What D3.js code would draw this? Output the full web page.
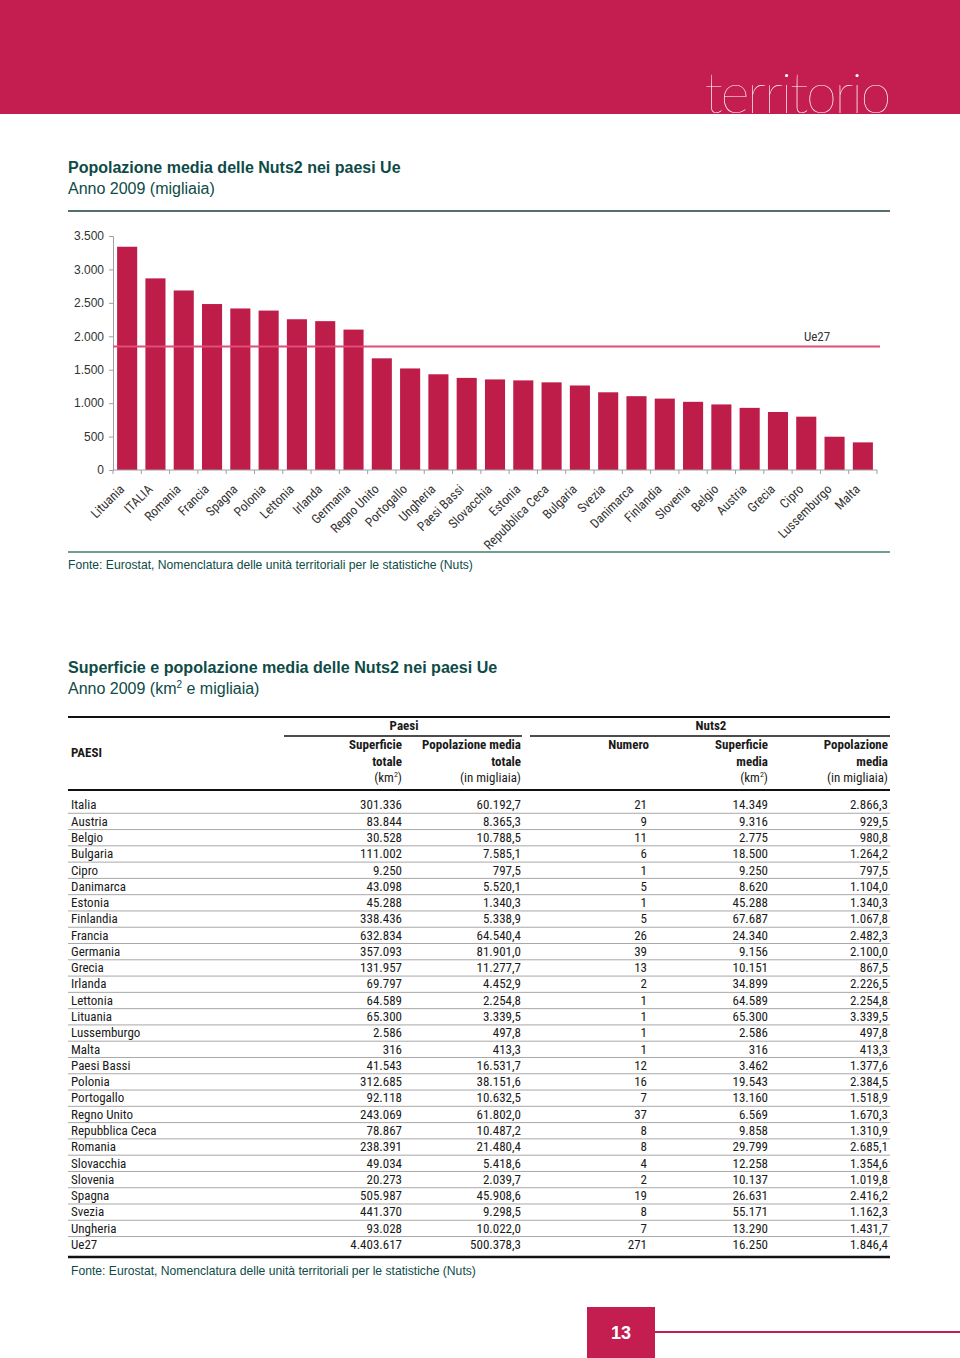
<!DOCTYPE html>
<html>
<head>
<meta charset="utf-8">
<script src="https://cdn.jsdelivr.net/npm/d3@7"></script>
<style>
  html, body { margin: 0; padding: 0; background: #fff; }
  svg { display: block; }
</style>
</head>
<body>
<svg id="page" width="960" height="1358"></svg>
<script>
// ---------- DATA ----------
const chartCountries = ["Lituania","ITALIA","Romania","Francia","Spagna","Polonia","Lettonia","Irlanda","Germania","Regno Unito","Portogallo","Ungheria","Paesi Bassi","Slovacchia","Estonia","Repubblica Ceca","Bulgaria","Svezia","Danimarca","Finlandia","Slovenia","Belgio","Austria","Grecia","Cipro","Lussemburgo","Malta"];
const chartValues = [3339.5,2866.3,2685.1,2482.3,2416.2,2384.5,2254.8,2226.5,2100.0,1670.3,1518.9,1431.7,1377.6,1354.6,1340.3,1310.9,1264.2,1162.3,1104.0,1067.8,1019.8,980.8,929.5,867.5,797.5,497.8,413.3];
const ue27Value = 1846.4;
const yTicks = [0,500,1000,1500,2000,2500,3000,3500];

const tableCountries = ["Italia","Austria","Belgio","Bulgaria","Cipro","Danimarca","Estonia","Finlandia","Francia","Germania","Grecia","Irlanda","Lettonia","Lituania","Lussemburgo","Malta","Paesi Bassi","Polonia","Portogallo","Regno Unito","Repubblica Ceca","Romania","Slovacchia","Slovenia","Spagna","Svezia","Ungheria","Ue27"];
const superficieTotale = [301336,83844,30528,111002,9250,43098,45288,338436,632834,357093,131957,69797,64589,65300,2586,316,41543,312685,92118,243069,78867,238391,49034,20273,505987,441370,93028,4403617];
const popolazioneTotale = [60192.7,8365.3,10788.5,7585.1,797.5,5520.1,1340.3,5338.9,64540.4,81901.0,11277.7,4452.9,2254.8,3339.5,497.8,413.3,16531.7,38151.6,10632.5,61802.0,10487.2,21480.4,5418.6,2039.7,45908.6,9298.5,10022.0,500378.3];
const numeroNuts2 = [21,9,11,6,1,5,1,5,26,39,13,2,1,1,1,1,12,16,7,37,8,8,4,2,19,8,7,271];
const superficieMedia = [14349,9316,2775,18500,9250,8620,45288,67687,24340,9156,10151,34899,64589,65300,2586,316,3462,19543,13160,6569,9858,29799,12258,10137,26631,55171,13290,16250];
const popolazioneMedia = [2866.3,929.5,980.8,1264.2,797.5,1104.0,1340.3,1067.8,2482.3,2100.0,867.5,2226.5,2254.8,3339.5,497.8,413.3,1377.6,2384.5,1518.9,1670.3,1310.9,2685.1,1354.6,1019.8,2416.2,1162.3,1431.7,1846.4];

// ---------- STYLE ----------
const CRIMSON = "#C41E51";
const BAR = "#BE1D49";
const TEAL = "#0E4B47";
const SANS = "'Liberation Sans', Arial, sans-serif";
const NARROW = "'Liberation Sans Narrow', 'Roboto Condensed', 'Liberation Sans', sans-serif";

const it = d3.formatLocale({decimal: ",", thousands: ".", grouping: [3], currency: ["€",""]});
const fInt = it.format(",d");
const fDec = it.format(",.1f");

const svg = d3.select("#page");

// ---------- HEADER ----------
svg.append("rect").attr("x",0).attr("y",0).attr("width",960).attr("height",114).attr("fill",CRIMSON);
svg.append("text").attr("x",889).attr("y",113).attr("text-anchor","end")
  .attr("font-family","Lato, Inter, sans-serif").attr("font-weight",100).attr("font-size",56)
  .attr("fill","#fff").attr("letter-spacing","-2.4").text("territorio");

// ---------- CHART TITLE ----------
svg.append("text").attr("x",68).attr("y",173).attr("font-family",SANS).attr("font-weight","bold")
  .attr("font-size",16).attr("fill",TEAL).text("Popolazione media delle Nuts2 nei paesi Ue");
svg.append("text").attr("x",68).attr("y",194).attr("font-family",SANS)
  .attr("font-size",16).attr("fill",TEAL).text("Anno 2009 (migliaia)");
svg.append("line").attr("x1",68).attr("x2",890).attr("y1",211).attr("y2",211)
  .attr("stroke","#51706E").attr("stroke-width",2);

// ---------- BAR CHART ----------
const x = d3.scaleBand().domain(chartCountries).range([113,877]).paddingInner(0.29).paddingOuter(0.145);
const y = d3.scaleLinear().domain([0,3500]).range([470,236]);

const g = svg.append("g");
g.selectAll("rect.bar").data(chartCountries).join("rect").attr("class","bar")
  .attr("x", d => x(d)).attr("width", x.bandwidth())
  .attr("y", (d,i) => y(chartValues[i])).attr("height", (d,i) => y(0) - y(chartValues[i]))
  .attr("fill", BAR);

// y axis
const yAxis = g.append("g").attr("transform","translate(113,0)")
  .call(d3.axisLeft(y).tickValues(yTicks).tickFormat(fInt).tickSize(4).tickPadding(5));
yAxis.select(".domain").attr("stroke","#A0A0A0");
yAxis.selectAll(".tick line").attr("stroke","#A0A0A0");
yAxis.selectAll("text").attr("font-family",SANS).attr("font-size",12).attr("fill","#333");

// x axis line + ticks at band edges
const step = x.step();
const edges = d3.range(chartCountries.length + 1).map(i => 113 + i * step);
g.append("line").attr("x1",113).attr("x2",877).attr("y1",y(0)).attr("y2",y(0)).attr("stroke","#A0A0A0");
g.selectAll("line.xt").data(edges).join("line").attr("class","xt")
  .attr("x1",d=>d).attr("x2",d=>d).attr("y1",y(0)).attr("y2",y(0)+4).attr("stroke","#A0A0A0");

g.selectAll("text.xl").data(chartCountries).join("text").attr("class","xl")
  .attr("transform", d => `translate(${x(d) + x.bandwidth()/2 - 2},${y(0)+20}) rotate(-45)`)
  .attr("text-anchor","end").attr("font-family",NARROW).attr("font-size",13).attr("fill","#333")
  .text(d => d);

// Ue27 line
g.append("line").attr("x1",113).attr("x2",880).attr("y1",y(ue27Value)).attr("y2",y(ue27Value))
  .attr("stroke","#DF4E78").attr("stroke-width",2);
g.append("text").attr("x",817).attr("y",y(ue27Value)-6).attr("text-anchor","middle")
  .attr("font-family",NARROW).attr("font-size",13).attr("fill","#333").text("Ue27");

svg.append("line").attr("x1",68).attr("x2",890).attr("y1",552).attr("y2",552)
  .attr("stroke","#6F9F94").attr("stroke-width",2);
svg.append("text").attr("x",68).attr("y",569).attr("font-family",SANS).attr("font-size",12.15)
  .attr("fill",TEAL).text("Fonte: Eurostat, Nomenclatura delle unità territoriali per le statistiche (Nuts)");

// ---------- TABLE ----------
svg.append("text").attr("x",68).attr("y",673).attr("font-family",SANS).attr("font-weight","bold")
  .attr("font-size",16.1).attr("fill",TEAL).text("Superficie e popolazione media delle Nuts2 nei paesi Ue");
const sub2 = svg.append("text").attr("x",68).attr("y",694).attr("font-family",SANS)
  .attr("font-size",16).attr("fill",TEAL);
sub2.append("tspan").text("Anno 2009 (km");
sub2.append("tspan").attr("font-size",10).attr("dy",-6).text("2");
sub2.append("tspan").attr("dy",6).text(" e migliaia)");

const tb = svg.append("g").attr("font-family",NARROW).attr("fill","#1a1a1a");
tb.append("line").attr("x1",68).attr("x2",890).attr("y1",717).attr("y2",717).attr("stroke","#111").attr("stroke-width",2);
tb.append("line").attr("x1",284).attr("x2",522).attr("y1",736).attr("y2",736).attr("stroke","#111").attr("stroke-width",1.5);
tb.append("line").attr("x1",530).attr("x2",890).attr("y1",736).attr("y2",736).attr("stroke","#111").attr("stroke-width",1.5);
tb.append("text").attr("x",404).attr("y",730).attr("text-anchor","middle").attr("font-weight","bold").attr("font-size",13).text("Paesi");
tb.append("text").attr("x",711).attr("y",730).attr("text-anchor","middle").attr("font-weight","bold").attr("font-size",13).text("Nuts2");
tb.append("text").attr("x",71).attr("y",757).attr("font-weight","bold").attr("font-size",13).text("PAESI");

const colRight = [402,521,647,768,888];
const headers = [
  ["Superficie","totale","km2"],
  ["Popolazione media","totale","(in migliaia)"],
  ["Numero","",""],
  ["Superficie","media","km2"],
  ["Popolazione","media","(in migliaia)"]
];
headers.forEach((h,i) => {
  const xr = i === 2 ? 649 : colRight[i];
  tb.append("text").attr("x",xr).attr("y",749).attr("text-anchor","end").attr("font-weight","bold").attr("font-size",13).text(h[0]);
  if (h[1]) tb.append("text").attr("x",xr).attr("y",766).attr("text-anchor","end").attr("font-weight","bold").attr("font-size",13).text(h[1]);
  if (h[2] === "km2") {
    const t = tb.append("text").attr("x",xr).attr("y",782).attr("text-anchor","end").attr("font-size",13);
    t.append("tspan").text("(km");
    t.append("tspan").attr("font-size",8).attr("dy",-5).text("2");
    t.append("tspan").attr("dy",5).text(")");
  } else if (h[2]) {
    tb.append("text").attr("x",xr).attr("y",782).attr("text-anchor","end").attr("font-size",13).text(h[2]);
  }
});
tb.append("line").attr("x1",68).attr("x2",890).attr("y1",790).attr("y2",790).attr("stroke","#111").attr("stroke-width",2);

const ry = d3.scaleBand().domain(tableCountries).range([797, 797 + tableCountries.length * 16.28]);
const rows = tb.selectAll("g.row").data(tableCountries).join("g").attr("class","row")
  .attr("transform", d => `translate(0,${ry(d)})`);
rows.filter((d,i) => i < tableCountries.length - 1).append("line")
  .attr("x1",68).attr("x2",890).attr("y1",ry.bandwidth()).attr("y2",ry.bandwidth())
  .attr("stroke","#A8A8A8").attr("stroke-width",1);
const rowBase = 12.4;
rows.append("text").attr("x",71).attr("y",rowBase).attr("font-size",13).text(d => d);
const cols = [
  {v: superficieTotale, f: fInt},
  {v: popolazioneTotale, f: fDec},
  {v: numeroNuts2, f: fInt},
  {v: superficieMedia, f: fInt},
  {v: popolazioneMedia, f: fDec}
];
cols.forEach((c, ci) => {
  rows.append("text").attr("x",colRight[ci]).attr("y",rowBase).attr("text-anchor","end")
    .attr("font-size",13).text((d,i) => c.f(c.v[i]));
});
tb.append("line").attr("x1",68).attr("x2",890).attr("y1",1257).attr("y2",1257).attr("stroke","#111").attr("stroke-width",2.5);
svg.append("text").attr("x",71).attr("y",1275).attr("font-family",SANS).attr("font-size",12.15)
  .attr("fill",TEAL).text("Fonte: Eurostat, Nomenclatura delle unità territoriali per le statistiche (Nuts)");

// ---------- FOOTER ----------
svg.append("rect").attr("x",587).attr("y",1307).attr("width",68).attr("height",51).attr("fill",CRIMSON);
svg.append("text").attr("x",621).attr("y",1339).attr("text-anchor","middle").attr("font-family",SANS)
  .attr("font-weight","bold").attr("font-size",18).attr("fill","#fff").text("13");
svg.append("line").attr("x1",655).attr("x2",960).attr("y1",1332).attr("y2",1332).attr("stroke",CRIMSON).attr("stroke-width",2);
</script>
</body>
</html>
